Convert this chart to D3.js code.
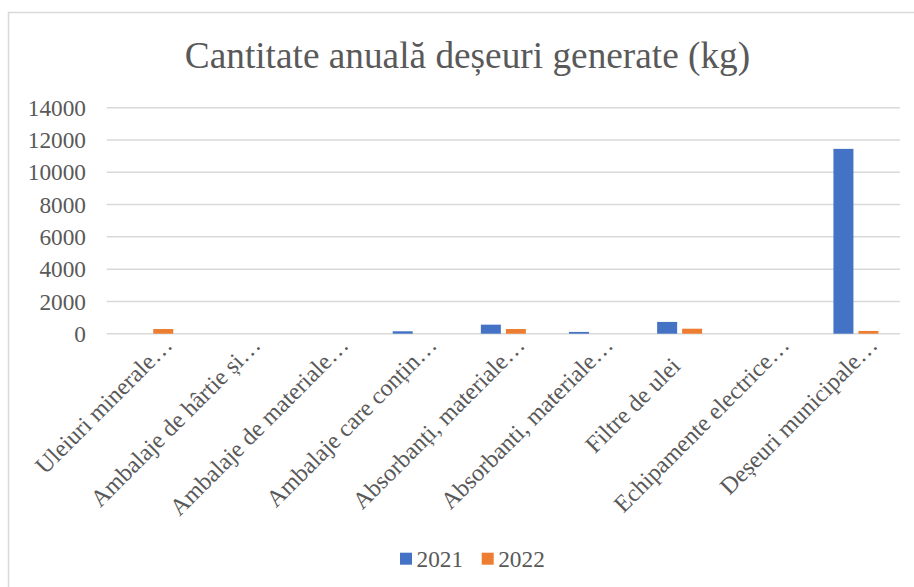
<!DOCTYPE html>
<html>
<head>
<meta charset="utf-8">
<script src="https://cdn.jsdelivr.net/npm/d3@7"></script>
<style>
  body { margin: 0; background: #fff; }
</style>
</head>
<body>
<div id="chart"></div>
<script>
// Chart data
const categories = [
  "Uleiuri minerale…",
  "Ambalaje de hârtie și…",
  "Ambalaje de materiale…",
  "Ambalaje care conțin…",
  "Absorbanți, materiale…",
  "Absorbanti, materiale…",
  "Filtre de ulei",
  "Echipamente electrice…",
  "Deșeuri municipale…"
];
const seriesNames = ["2021", "2022"];
const values2021 = [0, 0, 0, 150, 560, 110, 730, 0, 11450];
const values2022 = [290, 0, 0, 0, 290, 0, 310, 0, 170];
const yTicks = [0, 2000, 4000, 6000, 8000, 10000, 12000, 14000];
const title = "Cantitate anuală deșeuri generate (kg)";

const colors = { "2021": "#4472C4", "2022": "#ED7D31" };
const serif = "'Liberation Serif', 'Times New Roman', serif";

const width = 914, height = 587;
const plot = { left: 106.7, right: 900, top: 107.7, bottom: 333.7 };

const svg = d3.select("#chart").append("svg")
  .attr("width", width)
  .attr("height", height)
  .style("font-family", serif);

svg.append("rect")
  .attr("width", width).attr("height", height)
  .attr("fill", "#fff");

// Chart border (runs off the right and bottom of the picture)
svg.append("rect")
  .attr("x", 8.5).attr("y", 12.5)
  .attr("width", 1000).attr("height", 1000)
  .attr("fill", "none")
  .attr("stroke", "#d9d9d9")
  .attr("stroke-width", 1.5);

svg.append("text")
  .attr("x", 467.5)
  .attr("y", 68)
  .attr("text-anchor", "middle")
  .attr("fill", "#595959")
  .style("font-size", "37.3px")
  .text(title);

const x = d3.scaleBand()
  .domain(categories)
  .range([plot.left, plot.right])
  .padding(0);

const xSub = d3.scaleBand()
  .domain(seriesNames)
  .range([-22.5, 22.5])
  .paddingInner(0.2);

const y = d3.scaleLinear()
  .domain([0, 14000])
  .range([plot.bottom, plot.top]);

// Gridlines
svg.append("g")
  .selectAll("line")
  .data(yTicks)
  .join("line")
  .attr("x1", plot.left).attr("x2", plot.right)
  .attr("y1", d => y(d)).attr("y2", d => y(d))
  .attr("stroke", "#d9d9d9")
  .attr("stroke-width", 1.5);

// Y axis labels
svg.append("g")
  .selectAll("text")
  .data(yTicks)
  .join("text")
  .attr("x", 86)
  .attr("y", d => y(d))
  .attr("dy", "0.35em")
  .attr("text-anchor", "end")
  .attr("fill", "#595959")
  .style("font-size", "23.3px")
  .text(d => d);

// Bars
const rows = categories.map((c, i) => ({ cat: c, vals: [values2021[i], values2022[i]] }));
const groups = svg.append("g")
  .selectAll("g")
  .data(rows)
  .join("g")
  .attr("transform", d => `translate(${x(d.cat) + x.bandwidth() / 2},0)`);

groups.selectAll("rect")
  .data(d => d.vals.map((v, j) => ({ key: seriesNames[j], v })))
  .join("rect")
  .filter(d => d.v > 0)
  .attr("x", d => xSub(d.key))
  .attr("width", xSub.bandwidth())
  .attr("y", d => y(d.v))
  .attr("height", d => y(0) - y(d.v))
  .attr("fill", d => colors[d.key]);

// Category labels rotated -45: long (truncated) ones end at the tick,
// short ones sit centred in a box of fixed length
const labelBox = 182;
const labels = svg.append("g")
  .selectAll("text")
  .data(categories)
  .join("text")
  .attr("text-anchor", "end")
  .attr("fill", "#595959")
  .style("font-size", "24px")
  .text(d => d);

labels.attr("transform", function (d) {
  const len = this.getComputedTextLength();
  const back = Math.max(0, (labelBox - len) / 2) * Math.SQRT1_2;
  const ex = x(d) + x.bandwidth() / 2 + 23 - back;
  const ey = 346.5 + back;
  return `translate(${ex},${ey}) rotate(-45)`;
});

// Legend
const legendX = [400, 481.7];
const legend = svg.append("g");
seriesNames.forEach((s, i) => {
  legend.append("rect")
    .attr("x", legendX[i]).attr("y", 552.7)
    .attr("width", 12).attr("height", 12)
    .attr("fill", colors[s]);
  legend.append("text")
    .attr("x", legendX[i] + 16.5).attr("y", 566.5)
    .attr("fill", "#595959")
    .style("font-size", "23.3px")
    .text(s);
});
</script>
</body>
</html>
